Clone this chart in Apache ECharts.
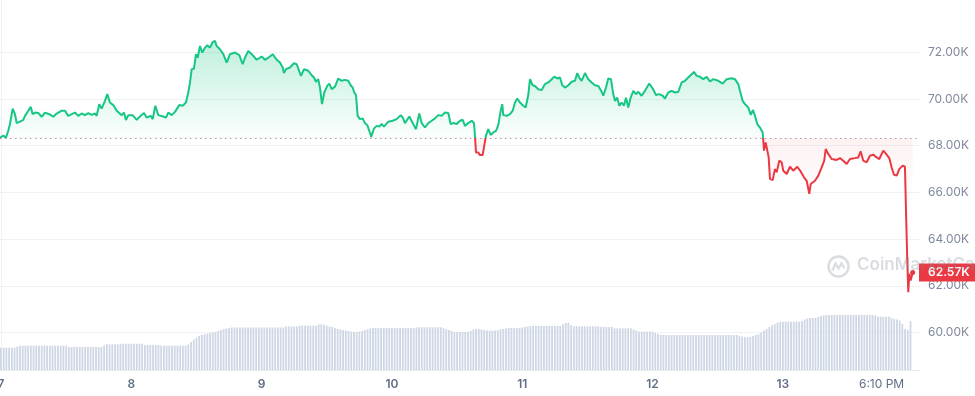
<!DOCTYPE html>
<html><head><meta charset="utf-8">
<script src="https://cdn.jsdelivr.net/npm/echarts@6/dist/echarts.min.js"></script>
<style>html,body{margin:0;padding:0;background:#fff}#c{width:975px;height:396px}</style>
</head><body><div id="c"></div>
<script>
// ---- data (hours since day "7" 00:00, price in thousands USD) ----
const baselinePrice = 68330;
const priceHours = [
-0.18,0.42,0.92,1.34,1.66,2.15,2.58,2.89,3.50,4.11,4.42,5.03,5.47,5.84,6.26,6.87,7.50,8.10,8.90,9.63,
10.26,11.18,11.79,12.39,13.02,13.63,14.24,14.86,15.47,16.08,16.70,17.31,17.62,18.10,18.54,19.15,19.58,20.07,20.68,21.31,
22.23,22.65,23.02,23.44,24.25,24.99,25.73,26.34,26.83,27.57,27.94,28.42,28.97,29.89,30.39,30.81,31.44,32.04,32.84,33.46,
34.07,34.49,34.81,35.12,35.54,35.91,36.22,36.65,37.07,37.57,37.99,38.49,38.99,39.41,39.72,40.33,40.94,41.57,42.17,
43.09,43.89,44.51,44.94,45.54,46.17,47.09,48.01,48.62,49.23,50.04,50.77,51.38,51.88,52.12,52.49,53.22,53.96,54.46,55.25,
55.80,56.59,57.22,57.64,58.01,58.43,58.75,59.12,59.54,60.09,60.46,60.90,61.51,62.12,62.74,63.35,63.96,64.40,64.77,65.06,
65.38,65.69,66.11,66.61,67.03,67.46,67.83,68.19,68.69,69.19,69.67,70.11,70.53,71.33,72.14,72.87,73.61,73.98,74.40,75.19,
75.82,76.43,77.03,77.48,78.08,78.69,79.32,79.93,80.53,81.16,81.77,82.38,82.82,83.30,83.92,84.53,
85.03,85.45,86.06,86.68,87.11,87.29,87.48,87.90,88.21,88.71,88.95,89.32,89.74,90.18,90.66,91.16,91.58,92.03,92.32,92.50,
93.13,93.74,94.24,94.66,95.08,95.58,96.19,96.63,97.11,97.42,97.92,98.34,98.95,99.58,100.18,100.79,101.42,101.90,102.45,102.95,
103.37,103.87,104.48,105.10,105.71,106.13,106.50,106.94,107.55,108.16,108.78,109.39,110.00,110.63,110.92,111.42,111.84,112.34,112.76,113.08,
113.50,113.87,114.31,114.73,115.10,115.52,115.97,116.45,116.94,117.37,117.99,118.60,119.39,120.02,120.63,121.23,121.86,122.28,122.89,123.52,
124.13,124.74,125.36,125.97,126.57,
126.89,127.62,128.12,128.73,129.34,129.96,130.57,131.18,132.10,132.91,133.65,134.57,135.17,135.78,136.10,136.59,137.02,137.62,138.07,138.49,
138.86,139.28,139.78,140.27,140.39,140.52,140.83,141.12,141.38,141.62,142.12,142.54,142.86,143.33,143.78,144.07,144.70,145.30,145.91,146.65,
147.27,147.88,148.38,148.86,149.12,149.91,150.52,151.14,151.62,151.88,152.36,152.98,153.90,154.51,155.12,155.74,156.35,157.27,157.88,158.32,
158.80,159.43,160.04,160.64,161.27,161.75,162.49,163.11,163.59,164.03,164.46,164.96,165.43,166.06,166.48,166.67,166.91,167.09,167.28,167.53,
167.90
];
const priceK = [
68.35,68.43,68.35,68.64,68.93,69.59,69.35,68.97,69.03,69.11,69.28,69.50,69.67,69.35,69.42,69.40,69.24,69.42,69.35,69.24,
69.38,69.50,69.50,69.28,69.35,69.42,69.28,69.38,69.31,69.40,69.32,69.38,69.28,69.78,69.59,69.92,70.21,69.85,69.74,69.50,
69.31,69.42,69.10,69.31,69.31,69.11,69.28,69.40,69.21,69.28,69.14,69.71,69.31,69.25,69.21,69.42,69.31,69.45,69.74,69.71,
69.85,70.28,70.71,71.28,71.30,71.92,71.77,72.27,71.99,72.20,72.30,72.20,72.44,72.49,72.27,72.13,71.92,71.56,71.92,
71.99,71.88,71.49,71.77,72.06,71.92,71.68,71.82,71.68,71.77,71.92,71.68,71.56,71.35,71.11,71.28,71.35,71.53,71.49,70.99,
71.28,71.21,71.02,70.92,70.74,70.85,70.49,69.78,70.28,70.56,70.66,70.42,70.53,70.88,70.78,70.82,70.78,70.59,70.49,70.28,
70.17,69.28,69.14,69.17,68.97,68.88,68.64,68.38,68.74,68.85,68.82,68.93,68.82,69.03,69.07,69.14,69.31,69.21,68.97,69.25,
68.97,68.71,69.38,68.97,68.78,68.97,69.07,69.17,69.31,69.28,69.42,69.40,68.93,68.97,68.93,69.07,
69.11,68.85,68.97,69.07,68.97,68.43,67.71,67.71,67.60,67.60,67.93,68.43,68.71,68.46,68.57,68.64,68.88,69.50,69.78,69.31,
69.28,69.35,69.50,69.85,70.02,69.85,69.71,69.64,70.17,70.85,70.59,70.56,70.42,70.38,70.64,70.71,70.85,70.96,70.88,70.92,
70.59,70.49,70.59,70.74,70.78,71.11,70.92,70.78,71.11,70.85,70.71,70.59,70.56,70.31,70.14,70.49,70.88,70.85,70.21,69.92,
70.06,69.71,69.85,69.71,70.06,69.64,70.06,70.35,70.21,70.31,70.14,70.35,70.66,70.45,70.17,70.21,70.14,70.02,70.28,70.35,
70.28,70.31,70.71,70.78,70.92,
70.92,71.16,70.99,70.95,70.85,70.95,70.75,70.85,70.78,70.66,70.85,70.89,70.85,70.64,70.35,69.92,69.78,69.64,69.32,69.53,
69.28,68.93,68.78,68.57,68.21,67.79,68.14,68.14,67.50,66.58,66.53,67.00,66.86,67.36,67.29,66.93,66.79,67.10,66.93,67.10,
66.90,66.65,66.50,65.94,66.36,66.50,66.72,67.07,67.36,67.86,67.65,67.43,67.39,67.47,67.36,67.22,67.43,67.47,67.50,67.76,
67.36,67.29,67.57,67.62,67.50,67.43,67.79,67.62,67.47,67.07,66.76,66.72,67.00,67.15,67.10,65.22,63.09,61.73,62.52,62.23,
62.57
];
// volume bars, one every half hour from hour 0
const volumeStepHours = 0.5;
const volume = [
22.3,22.3,22.3,22.3,22.3,22.3,23.3,
24.3,24.3,24.3,24.3,24.3,24.3,24.3,24.3,24.3,24.3,24.3,24.3,24.3,24.3,24.3,24.3,24.3,24.3,
23,23,23,23,23,23,23,23,23,23,23,23,23,24.5,
25.7,25.7,25.7,25.7,25.7,
26.3,26.3,26.3,26.3,26.3,26.3,26.3,26.3,26.3,
25,25,25,25,25,25,
24.3,24.3,24.3,24.3,24.3,24.3,24.3,24.3,24.3,24.3,
25.5,28,30.5,32.5,34,35,36,36.5,37,37.5,38,39,40,41,41.5,42,42.5,
42.5,42.5,42.5,42.5,42.5,42.5,42.5,42.5,42.5,42.5,42.5,42.5,42.5,42.5,42.5,42.5,42.5,42.5,42.5,
43.5,43.5,43.5,43.5,43.5,
44.3,44.3,44.3,44.3,44.3,44.3,44.3,
45.5,45.7,45,
44.5,43.5,43,42,41,40.5,40,39.5,39,38.5,38,38,38.5,39,40,40.7,41.5,
42,42,42,42,42,42,42,42,42,42,42,42,42,42,42,42,
42.7,42.7,42.7,42.7,42.7,42.7,42.7,42.7,42.7,42.7,
42,41,40,39,
38,38,38,38,38,38,
39,40.5,41,41,40.5,
40,39.5,39.3,39.3,39.5,40,40.5,41,41.5,42,
42,42,42,42,
42.5,43,43.5,
44,44,44,44,44,44,44,44,44,44,44,44,
45.5,47,47.3,45,
43.7,43.7,43.7,43.7,43.7,43.7,43.7,43.7,43.7,43.7,
43,43,43,43,43,
41.7,41.7,41.7,41.7,41.7,41.7,41.7,
40.5,39.5,
38.3,38.3,38.3,38.3,38.3,38.3,
37,36,
35,35,35,35,35,35,35,35,35,35,35,35,35,35,35,35,35,35,35,35,35,35,35,35,35,35,35,35,35,
34,33.5,33,32.7,33,34,35,36,37.5,39.5,41,43,44.5,46,47.5,
48.3,48.3,48.3,48.3,48.3,48.3,48.3,48.3,
49,50.5,51.5,52,52,52,53,54,54.5,
55,55,55,55,55,55,55,55,55,55,55,55,55,55,55,55,55,55,
54.5,
53.3,53.3,53.3,53.3,53.3,
52,51,50.5,49.5,46,41,40,49
];
const dayTickHours = [0,24,48,72,96,120,144];
const dayTickLabels = ['7','8','9','10','11','12','13'];
const timeTickHour = 162.17;
const timeTickLabel = '6:10 PM';
const yTickLabelsK = [60,62,64,66,68,70,72];

// ---- build ----
const priceData = priceHours.map((h, i) => [h, priceK[i] * 1000]);
const volumeData = volume.map((v, i) => [i * volumeStepHours, v]);
const lastIdx = priceData.length - 1;
const lastPrice = priceData[lastIdx][1];

const X_MIN = -0.18, X_MAX = 169.25;
const FONT = 'Inter, "Noto Sans", sans-serif';
const GREEN = '#16c784', RED = '#ea3943';

const chart = echarts.init(document.getElementById('c'), null, {renderer: 'canvas'});

const splitColors = ['rgba(0,0,0,0)'].concat(yTickLabelsK.map(() => '#eff2f5')).concat(['rgba(0,0,0,0)']);

const areaGradient = new echarts.graphic.LinearGradient(0, 40, 0, 300, [
  {offset: 0, color: 'rgba(22,199,132,0.28)'},
  {offset: 0.374, color: 'rgba(22,199,132,0.02)'},
  {offset: 0.375, color: 'rgba(234,57,67,0.07)'},
  {offset: 0.55, color: 'rgba(234,57,67,0.015)'},
  {offset: 1, color: 'rgba(234,57,67,0)'}
], true);

const option = {
  animation: false,
  backgroundColor: '#ffffff',
  textStyle: {fontFamily: FONT},
  grid: [
    {left: 0, right: 55, top: 5.6, bottom: 16.7, outerBoundsMode: 'none', containLabel: false},
    {left: 0, right: 55, top: 0, bottom: 26, outerBoundsMode: 'none', containLabel: false}
  ],
  xAxis: [
    {gridIndex: 0, type: 'value', min: X_MIN, max: X_MAX, show: false},
    {gridIndex: 1, type: 'value', min: X_MIN, max: X_MAX,
     axisLine: {show: true, lineStyle: {color: '#e8ebf0', width: 1}},
     axisTick: {show: false},
     splitLine: {show: false},
     axisLabel: {
       customValues: dayTickHours.concat([timeTickHour]),
       margin: 8,
       formatter: function (v) {
         const di = dayTickHours.indexOf(v);
         if (di >= 0) return '{d|' + dayTickLabels[di] + '}';
         if (Math.abs(v - timeTickHour) < 0.01) return '{t|' + timeTickLabel + '}';
         return '';
       },
       rich: {
         d: {fontSize: 12, fontWeight: 600, color: '#616e85', fontFamily: FONT},
         t: {fontSize: 12, fontWeight: 400, color: '#616e85', fontFamily: FONT}
       }
     }}
  ],
  yAxis: [
    {gridIndex: 0, type: 'value', position: 'right', min: 58000, max: 74000, interval: 2000,
     axisLine: {show: false}, axisTick: {show: false},
     splitLine: {show: true, lineStyle: {color: splitColors, width: 1}},
     axisLabel: {
       margin: 8, color: '#808a9d', fontSize: 12, fontFamily: FONT,
       formatter: function (v) {
         return yTickLabelsK.indexOf(v / 1000) >= 0 ? (v / 1000).toFixed(2) + 'K' : '';
       }
     }},
    {gridIndex: 1, type: 'value', position: 'right', min: 0, max: 370,
     axisLine: {show: true, lineStyle: {color: '#eff2f5'}},
     axisTick: {show: false}, axisLabel: {show: false}, splitLine: {show: false}}
  ],
  visualMap: {
    type: 'piecewise', show: false, seriesIndex: 0, dimension: 1,
    pieces: [
      {gte: baselinePrice, lte: 90000, color: GREEN},
      {gte: 40000, lt: baselinePrice, color: RED}
    ],
    outOfRange: {color: GREEN}
  },
  series: [
    {
      type: 'line', xAxisIndex: 0, yAxisIndex: 0, data: priceData,
      symbol: 'none', smooth: false, z: 5,
      lineStyle: {width: 2},
      areaStyle: {origin: baselinePrice, color: areaGradient, opacity: 1},
      markLine: {
        silent: true, symbol: 'none', animation: false,
        data: [
          {yAxis: baselinePrice, lineStyle: {type: [1.5, 3.5], color: '#9aa3b2', width: 1.2}, label: {show: false}}
        ]
      },
      markPoint: {
        silent: true,
        data: [{coord: priceData[lastIdx], symbol: 'circle', symbolSize: 5,
                itemStyle: {color: RED}, label: {show: false}}]
      }
    },
    {
      type: 'bar', xAxisIndex: 1, yAxisIndex: 1, data: volumeData,
      barWidth: 1.8, itemStyle: {color: '#cfd6e4'}, z: 2
    },
    {
      // current-price tag on the right axis
      type: 'line', xAxisIndex: 0, yAxisIndex: 0, data: [], z: 3,
      markLine: {
        silent: true, symbol: 'none', animation: false,
        lineStyle: {color: 'rgba(0,0,0,0)', width: 1, type: 'solid'},
        data: [{yAxis: lastPrice}],
        label: {show: true, position: 'end', distance: -1,
          formatter: function () { return (lastPrice / 1000).toFixed(2) + 'K'; },
          backgroundColor: RED, color: '#ffffff', padding: [3, 14, 3, 9],
          fontSize: 12, lineHeight: 12, fontWeight: 600, fontFamily: FONT}
      }
    }
  ],
  graphic: [
    {type: 'group', left: 826, top: 254, z: 100, zlevel: 1, silent: true, children: [
      {type: 'circle', shape: {cx: 11, cy: 11, r: 10}, style: {fill: 'none', stroke: 'rgba(128,138,157,0.3)', lineWidth: 2.4}},
      {type: 'polyline', shape: {points: [[5, 15], [8, 8], [11, 13], [14, 8], [17, 13]]},
       style: {fill: 'none', stroke: 'rgba(128,138,157,0.3)', lineWidth: 2.2}}
    ]},
    {type: 'text', left: 857, top: 256, z: 100, zlevel: 1, silent: true,
     style: {text: 'CoinMarketCap', fontSize: 17, fontWeight: 600, fontFamily: FONT, fill: 'rgba(128,138,157,0.3)'}}
  ]
};
chart.setOption(option);
</script>
</body></html>
